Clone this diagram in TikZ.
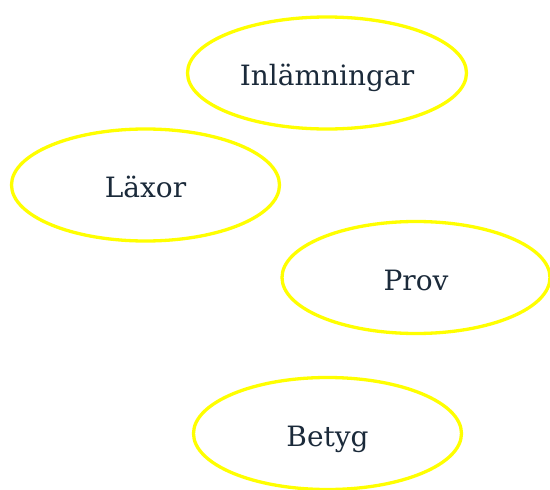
\documentclass[tikz,border=0pt]{standalone}
\usepackage{fontspec}
\setmainfont{DejaVu Serif}
\usetikzlibrary{shapes.geometric}
\definecolor{txt}{HTML}{1B2A3A}
\definecolor{yel}{HTML}{FFFF00}
\begin{document}
\begin{tikzpicture}[x=1pt,y=-1pt,
  oval/.style={ellipse,draw=yel,line width=3.3pt,inner sep=0pt,
    minimum width=268pt,minimum height=112pt,text=txt,
    text height=29pt,text depth=4pt,
    font=\fontsize{28}{32}\selectfont}]
\useasboundingbox (0,0) rectangle (550,490);
\node[oval,minimum width=279pt] (inl) at (327,73) {Inlämningar};
\node[oval] (lax) at (145.5,185) {Läxor};
\node[oval] (prov) at (416,277.5) {Prov};
\node[oval] (bet) at (327.5,433.5) {Betyg};
\end{tikzpicture}
\end{document}
